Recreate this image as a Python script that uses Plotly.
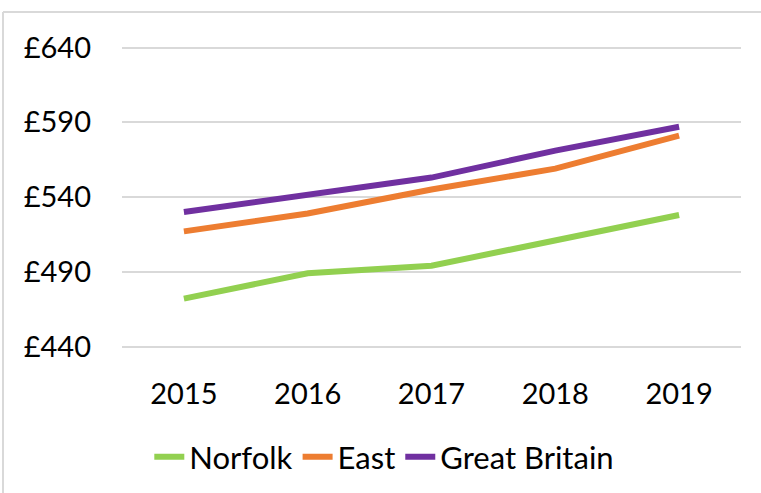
import plotly.graph_objects as go

years = ["2015", "2016", "2017", "2018", "2019"]
norfolk = [472, 489, 494, 511, 528]
east = [517, 529, 545, 559, 581]
great_britain = [530, 541, 553, 571, 587]
y_ticks = [440, 490, 540, 590, 640]
y_tick_labels = ["£440", "£490", "£540", "£590", "£640"]

series = [
    ("Norfolk", norfolk, "#92d050"),
    ("East", east, "#ed7d31"),
    ("Great Britain", great_britain, "#7030a0"),
]

FONT = "Lato, 'Open Sans', sans-serif"

fig = go.Figure()
for name, vals, color in series:
    fig.add_trace(go.Scatter(
        x=years, y=vals, name=name, mode="lines",
        line=dict(color=color, width=6),
    ))

W, H = 761, 493
# y range padded slightly so the edge gridlines are drawn
Y0, Y1 = 439, 641
L, R, T, B = 122, 20, 46, 145
pw, ph = W - L - R, H - T - B

def px_x(x):
    return (x - L) / pw

def px_y(y):
    return (H - B - y) / ph

border = "#d9d9d9"
fig.add_shape(type="line", xref="paper", yref="paper",
              x0=px_x(3), x1=px_x(W + 5), y0=px_y(12), y1=px_y(12),
              line=dict(color=border, width=2))
fig.add_shape(type="line", xref="paper", yref="paper",
              x0=px_x(3), x1=px_x(3), y0=px_y(12), y1=px_y(H + 5),
              line=dict(color=border, width=2))

fig.update_layout(
    width=W, height=H,
    margin=dict(l=L, r=R, t=T, b=B, autoexpand=False),
    paper_bgcolor="white", plot_bgcolor="white",
    font=dict(family=FONT, size=29, color="#000000"),
    showlegend=True,
    legend=dict(orientation="h", xref="container", x=0.505, xanchor="center",
                yref="container", y=(H - 457) / H, yanchor="middle",
                font=dict(size=31), itemwidth=30, tracegroupgap=0),
    xaxis=dict(
        type="category", range=[-0.5, 4.5], automargin=False,
        showgrid=False, zeroline=False, showline=False,
        ticks="", ticklabelstandoff=26,
        tickfont=dict(size=29),
    ),
    yaxis=dict(
        range=[Y0, Y1], tickvals=y_ticks, ticktext=y_tick_labels,
        automargin=False,
        showgrid=True, gridcolor="#d9d9d9", gridwidth=2,
        zeroline=False, showline=False, ticks="",
        ticklabelstandoff=30, tickfont=dict(size=29),
    ),
)

fig.write_html(
    "out.html",
    config={"displayModeBar": False},
    post_script="document.body.style.margin='0';document.body.style.padding='0';",
)
